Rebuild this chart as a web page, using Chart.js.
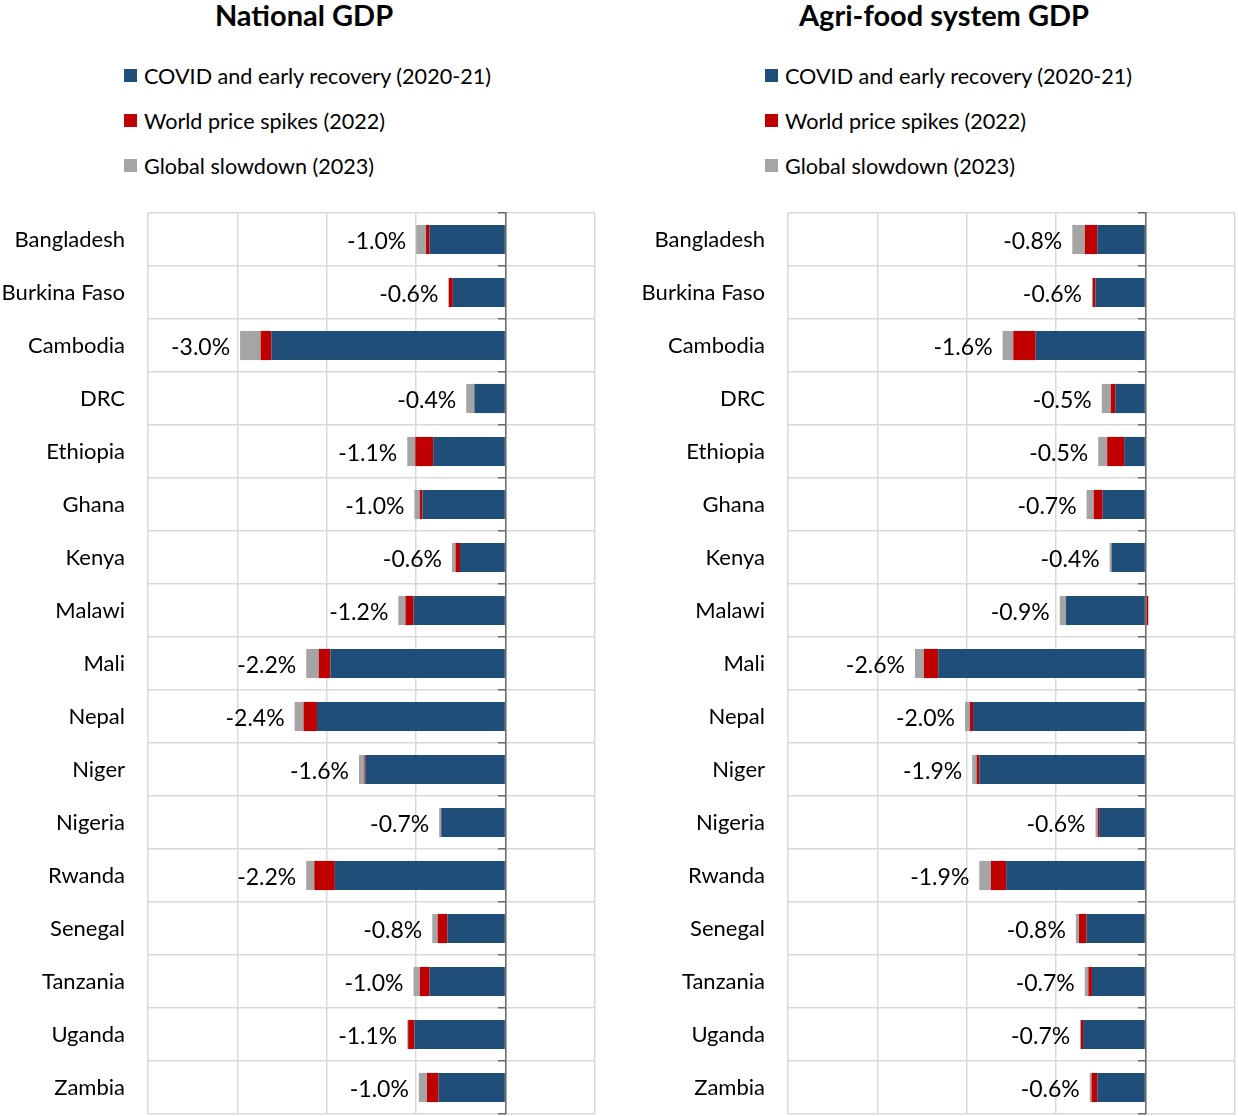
<!DOCTYPE html>
<html>
<head>
<meta charset="utf-8">
<title>GDP losses by shock period</title>
<script src="https://cdn.jsdelivr.net/npm/chart.js@4.4.1/dist/chart.umd.min.js"></script>
<style>
  html, body { margin: 0; padding: 0; background: #fff; }
  #page { position: relative; width: 1238px; height: 1116px; overflow: hidden; font-family: Lato, "Open Sans", sans-serif; color: #000; }
  .title { position: absolute; top: -2px; width: 608px; text-align: center; font-weight: bold; font-size: 29px; line-height: 34px; }
  .legend { position: absolute; top: 53px; }
  .legend .item { display: flex; align-items: center; height: 45px; font-size: 21.6px; white-space: nowrap; }
  .legend .sw { width: 13px; height: 13px; margin-right: 7px; flex: none; }
  canvas { position: absolute; top: 190px; }
</style>
</head>
<body>
<div id="page">
  <div class="title" style="left:0">National GDP</div>
  <div class="title" style="left:640px">Agri-food system GDP</div>
  <div class="legend" id="legLeft" style="left:124px"></div>
  <div class="legend" id="legRight" style="left:765px"></div>
  <canvas id="national" width="600" height="926" style="left:0"></canvas>
  <canvas id="agrifood" width="598" height="926" style="left:640px"></canvas>
</div>
<script>
// Countries, top to bottom
const countries = ["Bangladesh", "Burkina Faso", "Cambodia", "DRC", "Ethiopia", "Ghana", "Kenya",
  "Malawi", "Mali", "Nepal", "Niger", "Nigeria", "Rwanda", "Senegal", "Tanzania", "Uganda", "Zambia"];

// Shock periods (series)
const periods = ["COVID and early recovery (2020-21)", "World price spikes (2022)", "Global slowdown (2023)"];
const periodColors = ["#1F4E79", "#C00000", "#A5A5A5"];

// National GDP deviation, % (per period)
const nationalCovid    = [-0.85, -0.59, -2.62, -0.35, -0.81, -0.93, -0.51, -1.03, -1.96, -2.11, -1.57, -0.72, -1.91, -0.65, -0.85, -1.02, -0.75];
const nationalPrice    = [-0.04, -0.045, -0.12, 0.01, -0.20, -0.03, -0.05, -0.09, -0.13, -0.15, -0.01, -0.003, -0.23, -0.11, -0.11, -0.07, -0.13];
const nationalSlowdown = [-0.11, -0.005, -0.23, -0.09, -0.09, -0.06, -0.04, -0.08, -0.14, -0.10, -0.06, -0.02, -0.09, -0.06, -0.07, -0.01, -0.09];

// Agri-food system GDP deviation, % (per period)
const agriCovid    = [-0.54, -0.56, -1.23, -0.34, -0.24, -0.48, -0.38, -0.89, -2.32, -1.93, -1.86, -0.52, -1.56, -0.66, -0.60, -0.70, -0.54];
const agriPrice    = [-0.14, -0.03, -0.25, -0.05, -0.19, -0.10, -0.002, 0.03, -0.16, -0.035, -0.03, -0.015, -0.17, -0.085, -0.04, -0.025, -0.065];
const agriSlowdown = [-0.14, -0.01, -0.12, -0.10, -0.10, -0.08, -0.02, -0.07, -0.10, -0.055, -0.05, -0.025, -0.13, -0.035, -0.04, -0.007, -0.02];

// Value axis ticks (%)
const axisMin = -4, axisMax = 1, axisStep = 1;

const FONT = "Lato, 'Open Sans', sans-serif";

// Plot area inside each canvas (canvas pixels)
const PLOT_TOP = 23, PLOT_BOTTOM = 924, PLOT_LEFT = 148;

function buildLegend(id) {
  const el = document.getElementById(id);
  periods.forEach((p, i) => {
    const row = document.createElement('div');
    row.className = 'item';
    const sw = document.createElement('span');
    sw.className = 'sw';
    sw.style.background = periodColors[i];
    const tx = document.createElement('span');
    tx.textContent = p;
    row.appendChild(sw);
    row.appendChild(tx);
    el.appendChild(row);
  });
}
buildLegend('legLeft');
buildLegend('legRight');

// Total of the three periods written at the left end of each bar
const totalLabels = {
  id: 'totalLabels',
  afterDatasetsDraw(chart) {
    const ctx = chart.ctx;
    const xs = chart.scales.x;
    const meta0 = chart.getDatasetMeta(0);
    ctx.save();
    ctx.font = "23px " + FONT;
    ctx.fillStyle = '#000';
    ctx.textAlign = 'right';
    ctx.textBaseline = 'middle';
    chart.data.labels.forEach((lab, i) => {
      let total = 0, neg = 0;
      chart.data.datasets.forEach(ds => {
        const v = ds.data[i];
        total += v;
        if (v < 0) neg += v;
      });
      const shown = Math.round(total * 10) / 10;
      const text = shown.toFixed(1) + '%';
      const x = xs.getPixelForValue(neg) - 10;
      const y = meta0.data[i].y + 2;
      ctx.fillText(text, x, y);
    });
    ctx.restore();
  }
};

function makeChart(canvasId, covid, price, slowdown, padRight) {
  const series = [covid, price, slowdown];
  const chart = new Chart(document.getElementById(canvasId), {
    type: 'bar',
    data: {
      labels: countries,
      datasets: series.map((d, i) => ({
        label: periods[i],
        data: d,
        backgroundColor: periodColors[i],
        borderWidth: 0,
        barPercentage: 0.55,
        categoryPercentage: 1.0
      }))
    },
    options: {
      indexAxis: 'y',
      responsive: false,
      animation: false,
      layout: { padding: { top: PLOT_TOP, bottom: 926 - PLOT_BOTTOM, left: 0, right: padRight } },
      plugins: { legend: { display: false }, tooltip: { enabled: false }, title: { display: false } },
      scales: {
        x: {
          type: 'linear',
          stacked: true,
          min: axisMin,
          max: axisMax,
          ticks: { display: false, stepSize: axisStep },
          grid: { color: '#d9d9d9', lineWidth: 1.5, drawTicks: false },
          border: { display: false },
          afterFit: s => { s.height = 0; s.paddingLeft = 0; s.paddingRight = 0; }
        },
        y: {
          type: 'category',
          stacked: true,
          offset: true,
          grid: { offset: true, color: '#d9d9d9', lineWidth: 1.5, drawTicks: false },
          border: { display: false },
          ticks: { color: '#000', font: { family: FONT, size: 22 }, padding: 23 },
          afterFit: s => { s.width = PLOT_LEFT; s.paddingTop = 0; s.paddingBottom = 0; }
        },
        yZero: {
          type: 'category',
          axis: 'y',
          position: { x: 0 },
          offset: true,
          grid: { offset: true, drawOnChartArea: false, drawTicks: true, tickLength: 7, color: '#6b6b6b', lineWidth: 1.5, z: 1 },
          border: { display: true, color: '#6b6b6b', width: 1.5, z: 1 },
          ticks: { display: false },
          afterFit: s => { s.paddingTop = 0; s.paddingBottom = 0; }
        }
      }
    },
    plugins: [totalLabels]
  });
  // Pin the plot area to the intended rectangle
  const pad = chart.options.layout.padding;
  const ca = chart.chartArea;
  const dTop = PLOT_TOP - ca.top;
  const dBottom = ca.bottom - PLOT_BOTTOM;
  if (dTop !== 0 || dBottom !== 0) {
    chart.options.layout.padding = { top: pad.top + dTop, bottom: pad.bottom + dBottom, left: 0, right: padRight };
    chart.update();
  }
  return chart;
}

makeChart('national', nationalCovid, nationalPrice, nationalSlowdown, 5);
makeChart('agrifood', agriCovid, agriPrice, agriSlowdown, 3);
</script>
</body>
</html>
